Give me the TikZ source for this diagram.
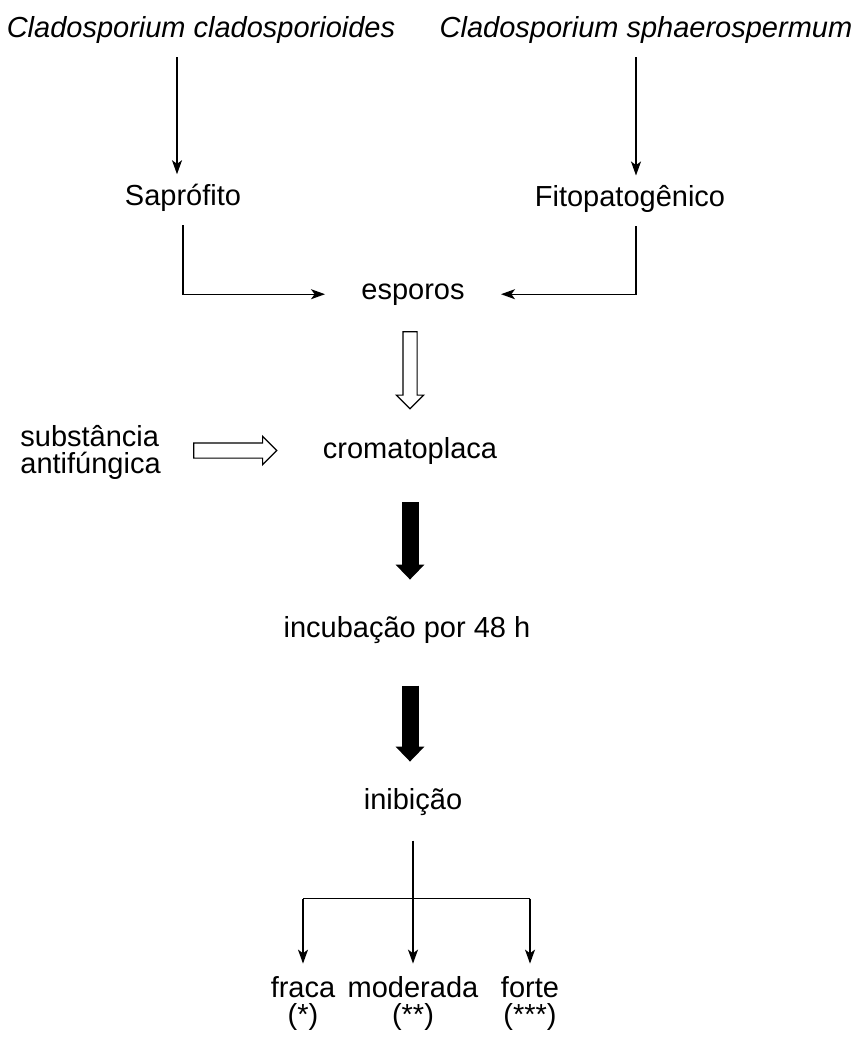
\documentclass[tikz,border=0pt]{standalone}
\usepackage{fontspec}
\setmainfont{Liberation Sans}
\usetikzlibrary{arrows.meta, shapes.arrows, calc}

\begin{document}
\begin{tikzpicture}[x=0.5pt, y=-0.5pt,
  font=\fontsize{14.5}{13.5}\selectfont,
  lbl/.style={inner sep=0pt, anchor=base},
  arr/.style={-{Stealth[length=7pt, width=5pt, inset=1.8pt]}, line width=0.7pt},
  fat/.style={-{Triangle[length=7.5pt, width=14pt]}, line width=8.5pt},
  hollow/.style={single arrow, draw, line width=0.6pt, inner sep=0pt,
                 single arrow head extend=3.25pt, single arrow tip angle=90,
                 minimum width=13pt, anchor=tip}]
  \useasboundingbox (0,0) rectangle (855,1039);
  \node[lbl] (clad) at (201,37) {\itshape Cladosporium cladosporioides};
  \node[lbl] (sphae) at (646,37) {\itshape Cladosporium sphaerospermum};
  \node[lbl] (sap)  at (183,205) {Saprófito};
  \node[lbl] (fito) at (630,206) {Fitopatogênico};
  \node[lbl] (esp)  at (413,299) {esporos};
  \node[lbl] (crom) at (410,458) {cromatoplaca};
  \node[inner sep=0pt, anchor=west, align=left] (subs) at (20,452) {substância\\antifúngica};
  \node[lbl] (inc)  at (407,637) {incubação por 48 h};
  \node[lbl] (inib) at (413,809) {inibição};
  \node[lbl, align=center] (fraca) at (303,1024) {fraca\\(*)};
  \node[lbl, align=center] (mod)   at (413,1024) {moderada\\(**)};
  \node[lbl, align=center] (forte) at (530,1024) {forte\\(***)};
  % block arrows
  \node[hollow, shape border rotate=270, inner xsep=3.25pt, minimum height=38.5pt] (h1) at ($(crom.north)+(0,-27)$) {};
  \node[hollow, inner ysep=3.5pt, minimum height=41.5pt, minimum width=13.5pt] (h2) at ($(crom.west)+(-45,0)$) {};
  \draw[fat, shorten <=19pt, shorten >=18pt] (crom.south) -- (crom.south |- inc.north);
  \draw[fat, shorten <=21pt, shorten >=13pt] (inc.south -| crom.south) -- (crom.south |- inib.north);
  % thin arrows
  \draw[arr, shorten <=7pt, shorten >=4.5pt] ([xshift=-3]sap.north |- clad.south) -- ([xshift=-3]sap.north);
  \draw[arr, shorten <=7pt, shorten >=4.5pt] ([xshift=3]fito.north |- sphae.south) -- ([xshift=3]fito.north);
  \draw[arr, shorten <=7pt, shorten >=18pt] (sap.south) |- (esp.west);
  \draw[arr, shorten <=7pt, shorten >=18pt] ([xshift=3]fito.south) |- (esp.east);
  \coordinate (split) at ($(inib.south)+(0,83)$);
  \draw[line width=0.7pt, shorten <=12.5pt] (inib.south) -- (split);
  \draw[line width=0.7pt] (split -| fraca.north) -- (split -| forte.north);
  \draw[arr, shorten >=6pt] (split -| fraca.north) -- (fraca.north);
  \draw[arr, shorten >=6pt] (split) -- (mod.north);
  \draw[arr, shorten >=6pt] (split -| forte.north) -- (forte.north);
\end{tikzpicture}
\end{document}
